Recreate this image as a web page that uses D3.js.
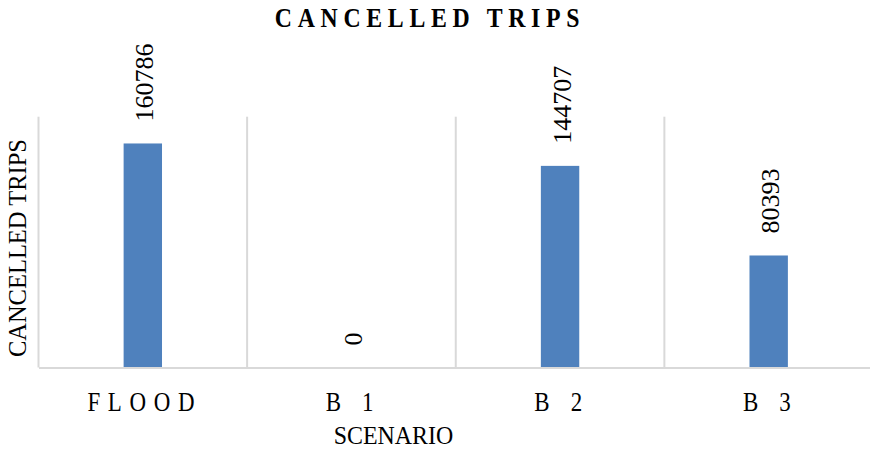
<!DOCTYPE html>
<html>
<head>
<meta charset="utf-8">
<script src="https://cdn.jsdelivr.net/npm/d3@7"></script>
<style>
  html, body { margin: 0; padding: 0; background: #fff; }
  svg { display: block; }
  svg text { font-family: "Liberation Serif", "Times New Roman", serif; }
</style>
</head>
<body>
<svg id="chart" width="870" height="449"></svg>
<script>
// Scenario data
const categories = ["FLOOD", "B 1", "B 2", "B 3"];
const cancelledTrips = [160786, 0, 144707, 80393];
const yMax = 180000;

const svg = d3.select("#chart");
const plot = { left: 38.5, right: 873, top: 116.7, bottom: 367.5 };

const x = d3.scaleBand().domain(categories).range([plot.left, plot.right]).padding(0);
const y = d3.scaleLinear().domain([0, yMax]).range([plot.bottom, plot.top]);

const gridColor = "#d9d9d9";

// Vertical category separators and left edge
const separators = [plot.left].concat(categories.slice(1).map(c => x(c)));
svg.append("g").selectAll("line").data(separators).join("line")
  .attr("x1", d => d).attr("x2", d => d)
  .attr("y1", y(yMax)).attr("y2", y(0))
  .attr("stroke", gridColor).attr("stroke-width", 2);

// Bars
const barW = x.bandwidth() * 0.184;
const data = categories.map((c, i) => ({ cat: c, value: cancelledTrips[i] }));
svg.append("g").selectAll("rect").data(data).join("rect")
  .attr("x", d => x(d.cat) + x.bandwidth() / 2 - barW / 2)
  .attr("y", d => y(d.value))
  .attr("width", barW)
  .attr("height", d => y(0) - y(d.value))
  .attr("fill", "#4f81bd");

// Category axis line
const xAxis = svg.append("g")
  .attr("transform", `translate(0,${plot.bottom})`)
  .call(d3.axisBottom(x).tickSize(0).tickFormat(""));
xAxis.select(".domain").attr("stroke", gridColor).attr("stroke-width", 2.2);

// Category labels (condensed serif, letter-spaced)
const catScale = 0.85;
svg.append("g").selectAll("text").data(categories).join("text")
  .attr("transform", d => `translate(${x(d) + x.bandwidth() / 2 + 2},411) scale(${catScale},1)`)
  .attr("text-anchor", "middle")
  .attr("font-size", 27)
  .attr("letter-spacing", 9)
  .attr("fill", "#000")
  .text(d => d);

// Value labels, rotated
svg.append("g").selectAll("text").data(data).join("text")
  .attr("transform", d => `translate(${x(d.cat) + x.bandwidth() / 2 + 1.5},${y(d.value) - 22}) rotate(-90)`)
  .attr("dy", "0.35em")
  .attr("text-anchor", "start")
  .attr("font-size", 26)
  .attr("fill", "#000")
  .text(d => d.value);

// Title
svg.append("text")
  .attr("transform", "translate(430,27) scale(0.85,1)")
  .attr("text-anchor", "middle")
  .attr("font-size", 28)
  .attr("font-weight", "bold")
  .attr("letter-spacing", 6.7)
  .attr("fill", "#000")
  .text("CANCELLED TRIPS");

// Axis titles
svg.append("text")
  .attr("transform", `translate(17.5,${(plot.top + plot.bottom) / 2 + 6}) rotate(-90)`)
  .attr("dy", "0.35em")
  .attr("text-anchor", "middle")
  .attr("font-size", 24.5)
  .attr("fill", "#000")
  .text("CANCELLED TRIPS");

svg.append("text")
  .attr("transform", "translate(393.5,444) scale(0.92,1)")
  .attr("text-anchor", "middle")
  .attr("font-size", 26)
  .attr("fill", "#000")
  .text("SCENARIO");
</script>
</body>
</html>
